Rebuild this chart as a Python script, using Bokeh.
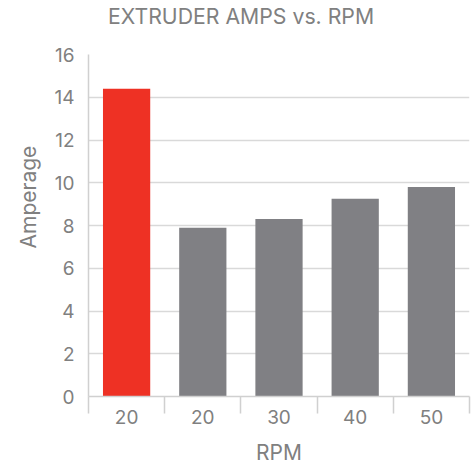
from bokeh.plotting import figure
from bokeh.models import Range1d, FixedTicker, Title
from bokeh.embed import file_html
from bokeh.resources import INLINE

categories = ["20", "20", "30", "40", "50"]
amps = [14.4, 7.9, 8.3, 9.25, 9.8]
bar_colors = ["#EE3124", "#808084", "#808084", "#808084", "#808084"]
y_ticks = [0, 2, 4, 6, 8, 10, 12, 14, 16]

FONT = "Inter"
TXT = "#808080"

n = len(categories)
centers = [i + 0.5 for i in range(n)]
bounds = [float(i) for i in range(n + 1)]

p = figure(width=474, height=467, output_backend="svg", toolbar_location=None, title=None,
           x_range=Range1d(0, n), y_range=Range1d(0, 16),
           min_border_left=88, min_border_right=5, min_border_top=54, min_border_bottom=71)

p.vbar(x=centers, top=amps, width=0.62, color=bar_colors, line_color=None)

p.outline_line_color = None
p.xgrid.grid_line_color = None
p.ygrid.grid_line_color = "#d9d9d9"
p.ygrid.grid_line_width = 1.5
p.ygrid.ticker = FixedTicker(ticks=y_ticks)

# y axis
p.yaxis.ticker = FixedTicker(ticks=y_ticks)
p.yaxis.axis_line_color = "#d0d0d0"
p.yaxis.axis_line_width = 1.5
p.yaxis.major_tick_line_color = None
p.yaxis.minor_tick_line_color = None
p.yaxis.major_tick_out = 0
p.yaxis.major_tick_in = 0
p.yaxis.major_label_standoff = 14
p.yaxis.major_label_text_font = FONT
p.yaxis.major_label_text_font_size = "19px"
p.yaxis.major_label_text_color = TXT

# x axis
p.xaxis.ticker = FixedTicker(ticks=centers, minor_ticks=bounds)
p.xaxis.major_label_overrides = {c: lab for c, lab in zip(centers, categories)}
p.xaxis.axis_line_color = "#d0d0d0"
p.xaxis.axis_line_width = 1.5
p.xaxis.major_tick_line_color = None
p.xaxis.major_tick_out = 0
p.xaxis.major_tick_in = 0
p.xaxis.minor_tick_line_color = "#d0d0d0"
p.xaxis.minor_tick_line_width = 1.5
p.xaxis.minor_tick_out = 17
p.xaxis.minor_tick_in = 0
p.xaxis.major_label_standoff = -4
p.xaxis.major_label_text_font = FONT
p.xaxis.major_label_text_font_size = "19px"
p.xaxis.major_label_text_color = TXT
p.xaxis.axis_label = "RPM"
p.xaxis.axis_label_standoff = 13
p.xaxis.axis_label_text_font = FONT
p.xaxis.axis_label_text_font_size = "21px"
p.xaxis.axis_label_text_font_style = "normal"
p.xaxis.axis_label_text_color = TXT

# spacer between frame and title, then the title itself (outermost)
spacer = Title(text=" ", text_font_size="1px", standoff=20)
p.add_layout(spacer, "above")
main_title = Title(text="EXTRUDER AMPS vs. RPM", align="left", offset=19.5,
                   vertical_align="top", standoff=2,
                   text_font=FONT, text_font_size="21.25px", text_font_style="normal",
                   text_color=TXT)
p.add_layout(main_title, "above")

ylab = Title(text="Amperage", align="left", offset=148, vertical_align="middle", standoff=20,
             text_font=FONT, text_font_size="21px", text_font_style="normal", text_color=TXT)
p.add_layout(ylab, "left")

open("out.html", "w").write(file_html(p, INLINE))
